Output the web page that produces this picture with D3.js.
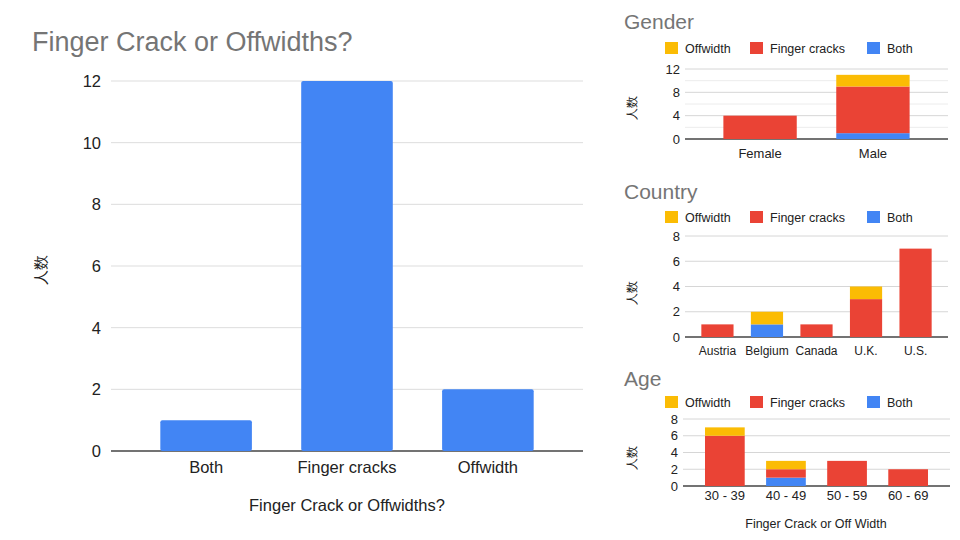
<!DOCTYPE html>
<html>
<head>
<meta charset="utf-8">
<script src="https://cdn.jsdelivr.net/npm/d3@7"></script>
<style>
  body { margin: 0; background: #fff; }
  svg { font-family: "Liberation Sans", Arial, sans-serif; }
</style>
</head>
<body>
<div id="chart"></div>
<script>
// main chart data
const mainCats = ["Both", "Finger cracks", "Offwidth"];
const mainCounts = [1, 12, 2];
const mainTicks = [0, 2, 4, 6, 8, 10, 12];

// stacked series (bottom to top)
const seriesKeys = ["Both", "Finger cracks", "Offwidth"];
const legendKeys = ["Offwidth", "Finger cracks", "Both"];

const genderCats = ["Female", "Male"];
const genderBoth = [0, 1];
const genderFinger = [4, 8];
const genderOff = [0, 2];
const genderTicks = [0, 4, 8, 12];

const countryCats = ["Austria", "Belgium", "Canada", "U.K.", "U.S."];
const countryBoth = [0, 1, 0, 0, 0];
const countryFinger = [1, 0, 1, 3, 7];
const countryOff = [0, 1, 0, 1, 0];
const countryTicks = [0, 2, 4, 6, 8];

const ageCats = ["30 - 39", "40 - 49", "50 - 59", "60 - 69"];
const ageBoth = [0, 1, 0, 0];
const ageFinger = [6, 1, 3, 2];
const ageOff = [1, 1, 0, 0];
const ageTicks = [0, 2, 4, 6, 8];

const colors = {"Both": "#4285f4", "Finger cracks": "#ea4335", "Offwidth": "#fbbc04"};

let svg = d3.select("#chart").append("svg")
    .attr("width", 960).attr("height", 540);

// ---- main chart ----
let x = d3.scaleBand().domain(mainCats).range([111, 583])
    .paddingInner(0.35).paddingOuter(0.35);
let y = d3.scaleLinear().domain([0, 12]).range([451, 81]);

svg.append("text").attr("x", 32).attr("y", 51)
    .attr("font-size", 27).attr("fill", "#757575")
    .text("Finger Crack or Offwidths?");

svg.append("g").selectAll("line").data(mainTicks).enter().append("line")
    .attr("x1", 111).attr("x2", 583)
    .attr("y1", d => y(d)).attr("y2", d => y(d))
    .attr("stroke", d => d == 0 ? "#444" : "#ddd")
    .attr("stroke-width", d => d == 0 ? 1.5 : 1);

svg.append("g").selectAll("text").data(mainTicks).enter().append("text")
    .attr("x", 101).attr("y", d => y(d) + 6)
    .attr("text-anchor", "end").attr("font-size", 16.5).attr("fill", "#222")
    .text(d => d);

svg.append("g").selectAll("rect").data(mainCats).enter().append("rect")
    .attr("x", d => x(d))
    .attr("y", (d, i) => y(mainCounts[i]))
    .attr("width", x.bandwidth())
    .attr("height", (d, i) => y(0) - y(mainCounts[i]))
    .attr("rx", 2)
    .attr("fill", colors["Both"]);

svg.append("g").selectAll("text").data(mainCats).enter().append("text")
    .attr("x", d => x(d) + x.bandwidth() / 2).attr("y", 473)
    .attr("text-anchor", "middle").attr("font-size", 16.5).attr("fill", "#222")
    .text(d => d);

svg.append("text").attr("x", 347).attr("y", 511)
    .attr("text-anchor", "middle").attr("font-size", 16.5).attr("fill", "#222")
    .text("Finger Crack or Offwidths?");

svg.append("text").attr("transform", "translate(46,270) rotate(-90)")
    .attr("text-anchor", "middle").attr("font-size", 15).attr("fill", "#222")
    .text("人数");

// ---- small stacked charts ----
function drawStacked(opt) {
    let g = svg.append("g");
    let rows = opt.cats.map((c, i) => ({
        cat: c, "Both": opt.both[i], "Finger cracks": opt.finger[i], "Offwidth": opt.off[i]
    }));
    let stack = d3.stack().keys(seriesKeys)(rows);

    let sx = d3.scaleBand().domain(opt.cats).range([opt.x0, opt.x1])
        .paddingInner(0.35).paddingOuter(opt.po);
    let sy = d3.scaleLinear().domain([0, opt.max]).range([opt.y0, opt.y1]);

    g.append("text").attr("x", 624).attr("y", opt.titleY)
        .attr("font-size", 21).attr("fill", "#757575").text(opt.title);

    // legend
    let lx = [665, 750, 867];
    legendKeys.forEach((k, i) => {
        g.append("rect").attr("x", lx[i]).attr("y", opt.legY - 6)
            .attr("width", 13).attr("height", 12).attr("fill", colors[k]);
        g.append("text").attr("x", lx[i] + 20).attr("y", opt.legY + 5)
            .attr("font-size", 12.5).attr("fill", "#222").text(k);
    });

    g.append("g").selectAll("line").data(opt.grid).enter().append("line")
        .attr("x1", opt.x0).attr("x2", opt.x1)
        .attr("y1", d => sy(d)).attr("y2", d => sy(d))
        .attr("stroke", d => d == 0 ? "#444" : (opt.ticks.includes(d) ? "#d6d6d6" : "#ececec"))
        .attr("stroke-width", d => d == 0 ? 1.5 : 1);

    g.append("g").selectAll("text").data(opt.ticks).enter().append("text")
        .attr("x", opt.x0 - 5).attr("y", d => sy(d) + 4.5)
        .attr("text-anchor", "end").attr("font-size", 13).attr("fill", "#222")
        .text(d => d);

    g.selectAll("g.layer").data(stack).enter().append("g")
        .attr("fill", d => colors[d.key])
        .selectAll("rect").data(d => d).enter().append("rect")
        .attr("x", d => sx(d.data.cat))
        .attr("y", d => sy(d[1]))
        .attr("width", sx.bandwidth())
        .attr("height", d => sy(d[0]) - sy(d[1]));

    g.append("g").selectAll("text").data(opt.cats).enter().append("text")
        .attr("x", d => sx(d) + sx.bandwidth() / 2).attr("y", opt.labelY)
        .attr("text-anchor", "middle").attr("font-size", opt.labelSize).attr("fill", "#222")
        .text(d => d);

    g.append("text").attr("transform", "translate(" + 636 + "," + opt.ylabY + ") rotate(-90)")
        .attr("text-anchor", "middle").attr("font-size", 12).attr("fill", "#222")
        .text("人数");
}

drawStacked({
    title: "Gender", titleY: 29, legY: 48,
    cats: genderCats, both: genderBoth, finger: genderFinger, off: genderOff,
    max: 12, ticks: genderTicks, grid: [0, 2, 4, 6, 8, 10, 12],
    x0: 685, x1: 948, po: 0.34, y0: 139, y1: 69, labelY: 158, ylabY: 108, labelSize: 13
});

drawStacked({
    title: "Country", titleY: 199, legY: 217,
    cats: countryCats, both: countryBoth, finger: countryFinger, off: countryOff,
    max: 8, ticks: countryTicks, grid: countryTicks,
    x0: 685, x1: 948, po: 0.33, y0: 337, y1: 236, labelY: 355, ylabY: 293, labelSize: 12
});

drawStacked({
    title: "Age", titleY: 386, legY: 402,
    cats: ageCats, both: ageBoth, finger: ageFinger, off: ageOff,
    max: 8, ticks: ageTicks, grid: ageTicks,
    x0: 683, x1: 950, po: 0.36, y0: 486, y1: 419, labelY: 500, ylabY: 458, labelSize: 13
});

svg.append("text").attr("x", 816).attr("y", 528)
    .attr("text-anchor", "middle").attr("font-size", 12.5).attr("fill", "#222")
    .text("Finger Crack or Off Width");
</script>
</body>
</html>
